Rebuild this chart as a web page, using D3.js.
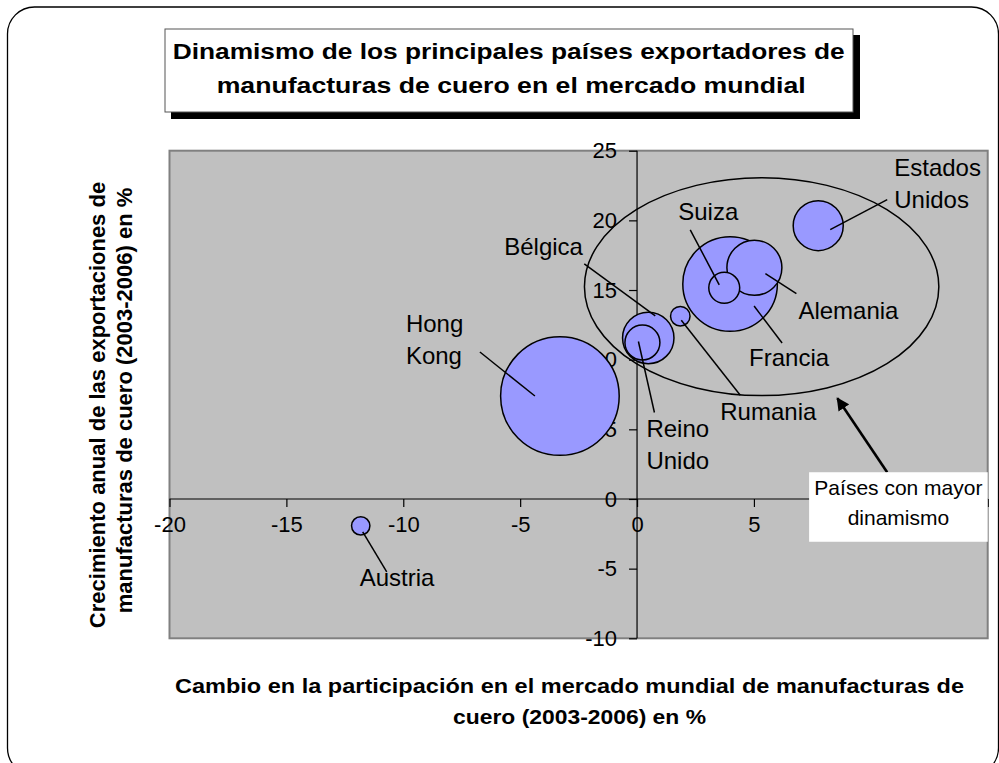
<!DOCTYPE html>
<html>
<head>
<meta charset="utf-8">
<script src="https://cdn.jsdelivr.net/npm/d3@7"></script>
<style>
  html, body { margin: 0; padding: 0; background: #fff; }
  svg { display: block; font-family: "Liberation Sans", Arial, sans-serif; }
</style>
</head>
<body>
<svg id="chart" width="999" height="763"></svg>
<script>
// ---------------- DATA ----------------
const countries   = ["Hong Kong", "Austria", "Estados Unidos", "Francia", "Alemania", "Suiza", "Rumania", "Bélgica", "Reino Unido"];
const shareChange = [-3.30, -11.82, 7.75, 3.98, 5.02, 3.73, 1.85, 0.48, 0.23];   // x
const growth      = [7.39, -1.93, 19.62, 15.43, 16.60, 15.16, 13.12, 11.56, 11.23]; // y
const bubbleSize  = [100, 2.4, 17.8, 63.6, 21.5, 6.8, 2.7, 18.8, 8.7];
const xTicks = [-20, -15, -10, -5, 0, 5, 10, 15];
const xTickLabels = ["-20", "-15", "-10", "-5", "0", "5", "", ""]; // 10 and 15 are hidden behind the note box
const yTicks = [-10, -5, 0, 5, 10, 15, 20, 25];
const yTickLabels = ["-10", "-5", "0", "5", "10", "15", "20", "25"];
const titleLines = ["Dinamismo de los principales países exportadores de", "manufacturas de cuero en el mercado mundial"];
const xTitleLines = ["Cambio en la participación en el mercado mundial de manufacturas de", "cuero (2003-2006) en %"];
const yTitleLines = ["Crecimiento anual de las exportaciones de", "manufacturas de cuero (2003-2006) en %"];
const boxText = ["Países con mayor", "dinamismo"];

// ---------------- LAYOUT (annotation placement) ----------------
// label offsets (px) relative to bubble centre; leader line from l1 to l2
const labelLayout = {
  "Hong Kong":      { lines: ["Hong", "Kong"],       dx: -154, dy: -64, l1: [-80, -44], l2: [-25, 0] },
  "Austria":        { lines: ["Austria"],            dx: -1,   dy: 60,  l1: [26, 46],   l2: [2, 6] },
  "Estados Unidos": { lines: ["Estados", "Unidos"],  dx: 76,   dy: -50, l1: [69, -26],  l2: [12, 4] },
  "Francia":        { lines: ["Francia"],            dx: 19,   dy: 82,  l1: [52, 59],   l2: [24, 22] },
  "Alemania":       { lines: ["Alemania"],           dx: 44,   dy: 51,  l1: [42, 26],   l2: [11, 6] },
  "Suiza":          { lines: ["Suiza"],              dx: -46,  dy: -68, l1: [-34, -58], l2: [-5, -3] },
  "Rumania":        { lines: ["Rumania"],            dx: 40,   dy: 104, l1: [60, 79],   l2: [1, 4] },
  "Bélgica":        { lines: ["Bélgica"],            dx: -144, dy: -83, l1: [-64, -74], l2: [7, -22] },
  "Reino Unido":    { lines: ["Reino", "Unido"],     dx: 4,    dy: 94,  l1: [12, 70],   l2: [-4, -1] }
};
// ellipse & box & arrow in data units
const ellipseSpec = { cx: 5.33, cy: 15.24, rx: 7.58, ry: 7.82 };
const boxSpec = { x0: 7.36, x1: 15.0, y0: 1.92, y1: -3.07 };
const arrowSpec = { from: [10.7, 1.92], to: [8.57, 7.23] };

// ---------------- DRAW ----------------
const svg = d3.select("#chart");
const P = { left: 169.5, right: 987.7, top: 150.7, bottom: 638.3 };

const x = d3.scaleLinear().domain([-20, 15]).range([P.left, P.right]);
const y = d3.scaleLinear().domain([-10, 25]).range([P.bottom, P.top]);
const r = d3.scaleSqrt().domain([0, d3.max(bubbleSize)]).range([0, 59.3]);

// outer rounded frame
svg.append("rect")
  .attr("x", 7.5).attr("y", 7).attr("width", 991).attr("height", 768)
  .attr("rx", 27).attr("ry", 27)
  .attr("fill", "#fff").attr("stroke", "#000").attr("stroke-width", 1.3);

// title box with shadow
svg.append("rect").attr("x", 171).attr("y", 35).attr("width", 689).attr("height", 84).attr("fill", "#000");
svg.append("rect").attr("x", 165).attr("y", 29).attr("width", 688).attr("height", 83)
  .attr("fill", "#fff").attr("stroke", "#555").attr("stroke-width", 1);
const titleSpec = [{ x: 172.7, y: 59, w: 672 }, { x: 216.7, y: 92.7, w: 589 }];
svg.append("g").selectAll("text").data(titleLines).join("text")
  .attr("x", (d, i) => titleSpec[i].x).attr("y", (d, i) => titleSpec[i].y)
  .attr("textLength", (d, i) => titleSpec[i].w).attr("lengthAdjust", "spacingAndGlyphs")
  .attr("font-size", 22).attr("font-weight", "bold").attr("fill", "#000")
  .text(d => d);

// plot area
svg.append("rect")
  .attr("x", P.left).attr("y", P.top).attr("width", P.right - P.left).attr("height", P.bottom - P.top)
  .attr("fill", "#C0C0C0").attr("stroke", "#808080").attr("stroke-width", 2);

// axes crossing at 0
const xAxis = d3.axisBottom(x).tickValues(xTicks).tickSize(8).tickPadding(9)
  .tickFormat((d, i) => xTickLabels[i]);
const yAxis = d3.axisLeft(y).tickValues(yTicks).tickSize(8).tickPadding(12)
  .tickFormat((d, i) => yTickLabels[i]);

const gx = svg.append("g").attr("transform", `translate(0,${y(0)})`).call(xAxis);
const gy = svg.append("g").attr("transform", `translate(${x(0)},0)`).call(yAxis);
[gx, gy].forEach(g => {
  g.select(".domain").attr("stroke", "#000").attr("stroke-width", 1.2);
  g.selectAll(".tick line").attr("stroke", "#000").attr("stroke-width", 1.2);
  g.selectAll(".tick text").attr("font-size", 22).attr("fill", "#000")
    .attr("font-family", "'Liberation Sans', Arial, sans-serif");
});
gx.select(".domain").attr("d", `M${P.left},0H${P.right}`);
gy.select(".domain").attr("d", `M0,${P.top}V${P.bottom}`);
gx.selectAll(".tick text").attr("dy", "0.71em");
gx.selectAll(".tick text").filter(function () { return this.textContent === ""; }).remove();

// ellipse
svg.append("ellipse")
  .attr("cx", x(ellipseSpec.cx)).attr("cy", y(ellipseSpec.cy))
  .attr("rx", x(ellipseSpec.rx) - x(0)).attr("ry", y(0) - y(ellipseSpec.ry))
  .attr("fill", "none").attr("stroke", "#000").attr("stroke-width", 1.5);

// bubbles
const data = countries.map((c, i) => ({ name: c, x: shareChange[i], y: growth[i], s: bubbleSize[i] }));
svg.append("g").selectAll("circle").data(data).join("circle")
  .attr("cx", d => x(d.x)).attr("cy", d => y(d.y)).attr("r", d => r(d.s))
  .attr("fill", "#9999FF").attr("stroke", "#000").attr("stroke-width", 1.5);

// leader lines and labels
const lab = svg.append("g");
data.forEach(d => {
  const L = labelLayout[d.name];
  const cx = x(d.x), cy = y(d.y);
  lab.append("line")
    .attr("x1", cx + L.l1[0]).attr("y1", cy + L.l1[1])
    .attr("x2", cx + L.l2[0]).attr("y2", cy + L.l2[1])
    .attr("stroke", "#000").attr("stroke-width", 1.5);
  const t = lab.append("text").attr("font-size", 24).attr("fill", "#000");
  L.lines.forEach((ln, k) => {
    t.append("tspan").attr("x", cx + L.dx).attr("y", cy + L.dy + k * 32).text(ln);
  });
});

// arrow
svg.append("defs").append("marker")
  .attr("id", "ah").attr("viewBox", "0 0 10 10").attr("refX", 9).attr("refY", 5)
  .attr("markerWidth", 5).attr("markerHeight", 5).attr("orient", "auto")
  .append("path").attr("d", "M0,0L10,5L0,10z").attr("fill", "#000");
svg.append("line")
  .attr("x1", x(arrowSpec.from[0])).attr("y1", y(arrowSpec.from[1]))
  .attr("x2", x(arrowSpec.to[0])).attr("y2", y(arrowSpec.to[1]))
  .attr("stroke", "#000").attr("stroke-width", 2.6).attr("marker-end", "url(#ah)");

// "Países con mayor dinamismo" box
svg.append("rect")
  .attr("x", x(boxSpec.x0)).attr("y", y(boxSpec.y0))
  .attr("width", x(boxSpec.x1) - x(boxSpec.x0)).attr("height", y(boxSpec.y1) - y(boxSpec.y0))
  .attr("fill", "#fff");
svg.append("g").selectAll("text").data(boxText).join("text")
  .attr("x", (x(boxSpec.x0) + x(boxSpec.x1)) / 2)
  .attr("y", (d, i) => y(boxSpec.y0) + 23 + i * 30)
  .attr("text-anchor", "middle").attr("font-size", 21).attr("fill", "#000")
  .text(d => d);

// x-axis title
const xtSpec = [{ x: 175, y: 693, w: 789 }, { x: 453, y: 724, w: 253 }];
svg.append("g").selectAll("text").data(xTitleLines).join("text")
  .attr("x", (d, i) => xtSpec[i].x).attr("y", (d, i) => xtSpec[i].y)
  .attr("textLength", (d, i) => xtSpec[i].w).attr("lengthAdjust", "spacingAndGlyphs")
  .attr("font-size", 21).attr("font-weight", "bold").attr("fill", "#000")
  .text(d => d);

// y-axis title (rotated)
const ytSpec = [{ bx: 105, cy: 405 }, { bx: 132, cy: 400.5 }];
svg.append("g").selectAll("text").data(yTitleLines).join("text")
  .attr("transform", (d, i) => `translate(${ytSpec[i].bx},${ytSpec[i].cy}) rotate(-90)`)
  .attr("text-anchor", "middle").attr("font-size", 22).attr("font-weight", "bold").attr("fill", "#000")
  .text(d => d);
</script>
</body>
</html>
